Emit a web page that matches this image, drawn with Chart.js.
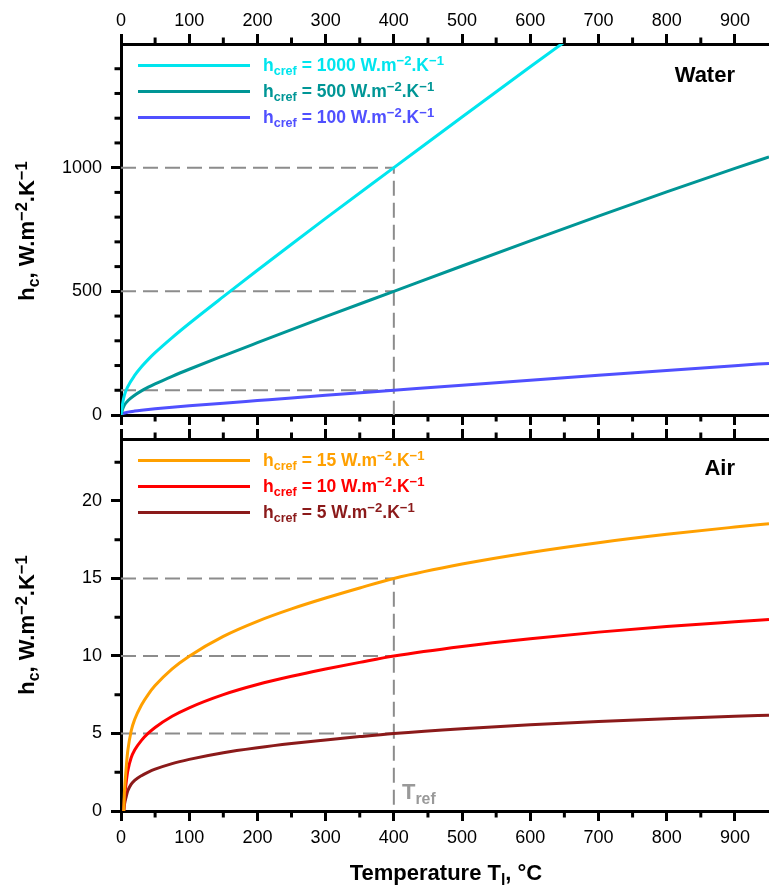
<!DOCTYPE html>
<html>
<head>
<meta charset="utf-8">
<script src="https://cdn.jsdelivr.net/npm/chart.js@4.4.0/dist/chart.umd.min.js"></script>
<style>
body { margin: 0; background: #fff; font-family: "Liberation Sans", Arial, sans-serif; }
#wrap { position: relative; width: 769px; height: 889px; overflow: hidden; }
canvas { position: absolute; left: 0; }
#topChart { top: 0; }
#bottomChart { top: 428px; }
.lbl { position: absolute; font-weight: bold; white-space: nowrap; line-height: 1; }
.leg { font-size: 17.5px; }
.title { font-size: 22px; color: #000; }
.sub { font-size: 0.72em; position: relative; top: 0.3em; }
.sup { font-size: 0.75em; position: relative; top: -0.45em; }
.swatch { position: absolute; left: 138px; width: 112px; height: 3px; }
</style>
</head>
<body>
<div id="wrap">
  <canvas id="topChart" width="769" height="428"></canvas>
  <canvas id="bottomChart" width="769" height="461"></canvas>
</div>
<script>
// temperatures (°C) and convective coefficients
const waterT = [0, 2, 5, 10, 20, 30, 40, 50, 75, 100, 150, 200, 250, 300, 400, 500, 600, 700, 800, 900, 950];
const water1000 = [0, 40, 80, 115, 160, 195, 225, 252, 313, 370, 478.5, 585, 690.5, 795, 1000, 1205, 1408, 1608, 1804, 1994, 2086.5];
const water500 = [0, 20, 40, 57.5, 80, 97.5, 112.5, 126, 156.5, 185, 239.3, 292.5, 345.3, 397.5, 500, 602.5, 704, 804, 902, 997, 1043.3];
const water100 = [0, 4, 8, 11.5, 16, 19.5, 22.5, 25.2, 31.3, 37, 47.9, 58.5, 69.1, 79.5, 100, 120.5, 140.8, 160.8, 180.4, 199.4, 208.7];

const airT = [4, 5, 6, 8, 10, 15, 20, 30, 40, 50, 75, 100, 150, 200, 250, 300, 350, 400, 500, 600, 700, 800, 900, 950];
const air15 = [0, 1.2, 1.88, 3.0, 3.9, 5.18, 5.9, 6.84, 7.53, 8.09, 9.17, 9.99, 11.27, 12.24, 13.04, 13.74, 14.39, 15, 15.93, 16.68, 17.31, 17.85, 18.32, 18.54];
const air10 = [0, 0.8, 1.25, 2.0, 2.6, 3.45, 3.93, 4.56, 5.02, 5.39, 6.11, 6.66, 7.51, 8.16, 8.69, 9.16, 9.59, 10, 10.62, 11.12, 11.54, 11.9, 12.21, 12.36];
const air5 = [0, 0.4, 0.63, 1.0, 1.3, 1.73, 1.97, 2.28, 2.51, 2.7, 3.06, 3.33, 3.76, 4.08, 4.35, 4.58, 4.8, 5, 5.31, 5.56, 5.77, 5.95, 6.11, 6.18];

const tRef = 400;
const waterRefs = [1000, 500, 100];
const airRefs = [15, 10, 5];
const waterColors = ['#00e5ee', '#009696', '#5050ff'];
const airColors = ['#ffa000', '#ff0000', '#8b1a1a'];

const xMin = 0, xMax = 950, xStep = 100, xMinor = 50;
const waterMax = 1500, waterStep = 500, waterMinor = 100;
const airMax = 24, airStep = 5, airMinor = 2.5;

Chart.defaults.font.family = '"Liberation Sans", Arial, sans-serif';
Chart.defaults.color = '#000';

function pts(xs, ys) {
    return xs.map((x, i) => ({ x: x, y: ys[i] }));
}

function curve(xs, ys, color) {
    return {
        data: pts(xs, ys), borderColor: color, borderWidth: 3,
        pointRadius: 0, fill: false, cubicInterpolationMode: 'monotone', order: 0
    };
}

// dashed guide lines at the reference values, the first one turns down at Tref
function guides(refs) {
    return refs.map((r, i) => ({
        data: i === 0 ? [{ x: 0, y: r }, { x: tRef, y: r }, { x: tRef, y: 0 }] : [{ x: 0, y: r }, { x: tRef, y: r }],
        borderColor: '#8c8c8c', borderWidth: 2, borderDash: [15, 7],
        pointRadius: 0, fill: false, tension: 0, order: 5
    }));
}

// short minor tick marks outside the frame
const minorTicks = {
    id: 'minorTicks',
    afterDraw(chart, args, opts) {
        const ctx = chart.ctx, area = chart.chartArea;
        ctx.save();
        ctx.strokeStyle = '#000';
        ctx.lineWidth = 3;
        opts.marks.forEach(m => {
            const s = chart.scales[m.id];
            const pos = s.options.position;
            for (let v = s.min + m.step; v < s.max; v += m.step) {
                if (Math.abs(v / m.major - Math.round(v / m.major)) < 1e-6) continue;
                const p = s.getPixelForValue(v);
                ctx.beginPath();
                if (pos === 'top') { ctx.moveTo(p, area.top); ctx.lineTo(p, area.top - 6.5); }
                else if (pos === 'bottom') { ctx.moveTo(p, area.bottom); ctx.lineTo(p, area.bottom + 6.5); }
                else { ctx.moveTo(area.left, p); ctx.lineTo(area.left - 6.5, p); }
                ctx.stroke();
            }
        });
        ctx.restore();
    }
};

function fixPad(s) {
    s.paddingTop = 0; s.paddingBottom = 0; s.paddingLeft = 0; s.paddingRight = 0;
}

function xAxis(pos, labels, height, pad) {
    return {
        type: 'linear', position: pos, min: xMin, max: xMax,
        ticks: { display: labels, stepSize: xStep, includeBounds: false, padding: pad, maxRotation: 0, font: { size: 18 }, callback: v => String(v) },
        grid: { drawOnChartArea: false, tickLength: 10, tickWidth: 3, tickColor: '#000' },
        border: { width: 3, color: '#000' },
        afterFit: s => { s.height = height; fixPad(s); }
    };
}

function yAxis(max, step) {
    return {
        type: 'linear', position: 'left', min: 0, max: max,
        ticks: { stepSize: step, includeBounds: false, padding: 9, font: { size: 18 }, callback: v => String(v) },
        grid: { drawOnChartArea: false, tickLength: 10, tickWidth: 3, tickColor: '#000' },
        border: { width: 3, color: '#000' },
        afterBuildTicks: s => { s.ticks = s.ticks.filter(t => t.value < max); },
        afterFit: s => { s.width = 121; fixPad(s); }
    };
}

const baseOptions = {
    responsive: false, animation: false, devicePixelRatio: 1,
    layout: { padding: 0 },
    plugins: { legend: { display: false }, tooltip: { enabled: false } }
};

new Chart(document.getElementById('topChart'), {
    type: 'line',
    data: {
        datasets: [
            curve(waterT, water1000, waterColors[0]),
            curve(waterT, water500, waterColors[1]),
            curve(waterT, water100, waterColors[2])
        ].concat(guides(waterRefs))
    },
    options: Object.assign({}, baseOptions, {
        scales: {
            x: xAxis('top', true, 44, 2),
            xb: xAxis('bottom', false, 13, 0),
            y: yAxis(waterMax, waterStep)
        },
        plugins: Object.assign({}, baseOptions.plugins, {
            minorTicks: { marks: [{ id: 'x', step: xMinor, major: xStep }, { id: 'xb', step: xMinor, major: xStep }, { id: 'y', step: waterMinor, major: waterStep }] }
        })
    }),
    plugins: [minorTicks]
});

new Chart(document.getElementById('bottomChart'), {
    type: 'line',
    data: {
        datasets: [
            curve(airT, air15, airColors[0]),
            curve(airT, air10, airColors[1]),
            curve(airT, air5, airColors[2])
        ].concat(guides(airRefs))
    },
    options: Object.assign({}, baseOptions, {
        scales: {
            xt: xAxis('top', false, 11, 0),
            x: xAxis('bottom', true, 78, 6),
            y: yAxis(airMax, airStep)
        },
        plugins: Object.assign({}, baseOptions.plugins, {
            minorTicks: { marks: [{ id: 'x', step: xMinor, major: xStep }, { id: 'xt', step: xMinor, major: xStep }, { id: 'y', step: airMinor, major: airStep }] }
        })
    }),
    plugins: [minorTicks]
});

// text overlays (subscripts and superscripts)
const wrap = document.getElementById('wrap');
const unit = 'W.m<span class="sup">\u22122</span>.K<span class="sup">\u22121</span>';

function addLabel(html, x, y, cls, align, color, rotate) {
    const d = document.createElement('div');
    d.className = 'lbl ' + cls;
    d.innerHTML = html;
    d.style.left = x + 'px';
    d.style.top = y + 'px';
    d.style.color = color;
    const tx = align === 'right' ? '-100%' : align === 'center' ? '-50%' : '0';
    d.style.transform = 'translate(' + tx + ', -50%)' + (rotate ? ' rotate(-90deg)' : '');
    wrap.appendChild(d);
}

function addLegend(refs, colors, y0) {
    refs.forEach((r, i) => {
        const y = y0 + i * 26;
        const sw = document.createElement('div');
        sw.className = 'swatch';
        sw.style.top = (y - 1.5) + 'px';
        sw.style.background = colors[i];
        wrap.appendChild(sw);
        addLabel('h<span class="sub">cref</span> = ' + r + ' ' + unit, 263, y + 1, 'leg', 'left', colors[i]);
    });
}

addLegend(waterRefs, waterColors, 65);
addLegend(airRefs, airColors, 460);

addLabel('Water', 735, 75, 'title', 'right', '#000');
addLabel('Air', 735, 468, 'title', 'right', '#000');
addLabel('T<span class="sub">ref</span>', 402, 792, 'title', 'left', '#999');
addLabel('h<span class="sub">c</span>, ' + unit, 27, 231, 'title', 'center', '#000', true);
addLabel('h<span class="sub">c</span>, ' + unit, 27, 625, 'title', 'center', '#000', true);
addLabel('Temperature T<span class="sub">l</span>, °C', 446, 873, 'title', 'center', '#000');
</script>
</body>
</html>
